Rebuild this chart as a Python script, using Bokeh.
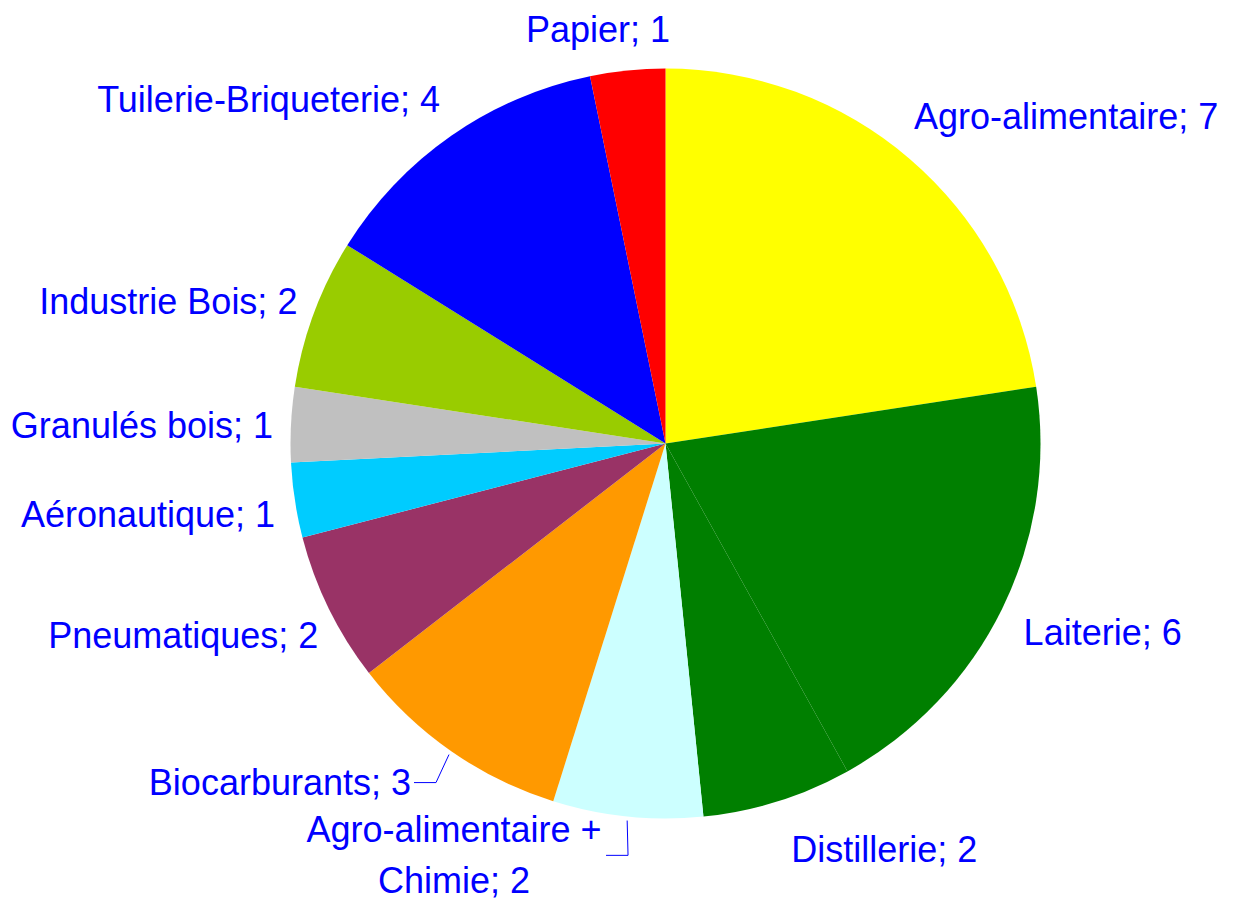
import math
from bokeh.plotting import figure
from bokeh.models import Range1d, ColumnDataSource
from bokeh.embed import file_html
from bokeh.resources import INLINE
from bokeh.core.properties import value

# ---- data ----
categories = ["Agro-alimentaire", "Laiterie", "Distillerie", "Agro-alimentaire +\nChimie",
              "Biocarburants", "Pneumatiques", "Aéronautique", "Granulés bois",
              "Industrie Bois", "Tuilerie-Briqueterie", "Papier"]
counts = [7, 6, 2, 2, 3, 2, 1, 1, 2, 4, 1]
colors = ["#FFFF00", "#007F00", "#007F00", "#CCFFFF", "#FF9900", "#993366",
          "#00CCFF", "#C0C0C0", "#99CC00", "#0000FF", "#FF0000"]

# ---- layout (pixels from the figure's top-left corner) ----
W, H = 1218, 901
CX, CY_S = 665, 443          # pie centre
R = 375
GAP = 25
HALF_H = 18
FONT = "Liberation Sans"
FSIZE = "36px"
TXT = "#0000FF"

def ys(sy):                   # pixel y (down) -> data y (up)
    return H - sy

CY = ys(CY_S)

# label displacements (px) relative to the automatic position
nudges = {
    "Agro-alimentaire": (-4, -10),
    "Laiterie": (7, 5),
    "Distillerie": (14, 7),
    "Agro-alimentaire +\nChimie": (-163, -4),
    "Biocarburants": (-18, -4),
    "Pneumatiques": (20, 8),
    "Aéronautique": (13, 8),
    "Granulés bois": (15, 3),
    "Industrie Bois": (15, 3),
    "Tuilerie-Briqueterie": (11, -1),
    "Papier": (-19, 2),
}
with_leader = {"Biocarburants": 3, "Agro-alimentaire +\nChimie": 152}

total = sum(counts)
starts, ends, lx, ly, aligns, texts = [], [], [], [], [], []
leaders = []
cum = 0
for cat, n in zip(categories, counts):
    t0 = 2 * math.pi * cum / total
    t1 = 2 * math.pi * (cum + n) / total
    cum += n
    starts.append(math.pi / 2 - t1)
    ends.append(math.pi / 2 - t0)
    m = (t0 + t1) / 2
    s, c = math.sin(m), math.cos(m)
    x = CX + (R + GAP) * s - 8
    y_s = CY_S - (R + GAP) * c - c * HALF_H
    al = "left" if s > 0.15 else ("right" if s < -0.15 else "center")
    dx, dy = nudges.get(cat, (0, 0))
    x += dx
    y_s += dy
    lx.append(x)
    ly.append(ys(y_s))
    aligns.append(al)
    texts.append(f"{cat}; {n}")
    if cat in with_leader:
        x0 = x + with_leader[cat]
        ex = CX + (R + 4) * s
        ey = CY_S - (R + 4) * c
        leaders.append(([x0, x0 + 22, ex], [ys(y_s), ys(y_s), ys(ey)]))

p = figure(width=W, height=H, x_range=Range1d(0, W), y_range=Range1d(0, H),
           output_backend="svg", toolbar_location=None, min_border=0)
p.axis.visible = False
p.grid.visible = False
p.outline_line_color = None
p.background_fill_color = "white"

src = ColumnDataSource(dict(start=starts, end=ends, color=colors))
p.wedge(x=CX, y=CY, radius=R, radius_units="screen", start_angle="start", end_angle="end",
        direction="anticlock", fill_color="color", line_color=None, source=src)

for xs_, ys_ in leaders:
    p.line(xs_, ys_, line_color=TXT, line_width=1)

lsrc = ColumnDataSource(dict(x=lx, y=ly, text=texts, align=aligns))
p.text(x="x", y="y", text="text", text_align="align", text_baseline="middle",
       text_font=value(FONT), text_font_size=FSIZE, text_color=TXT,
       text_line_height=1.25, source=lsrc)

open("out.html", "w").write(file_html(p, INLINE))
